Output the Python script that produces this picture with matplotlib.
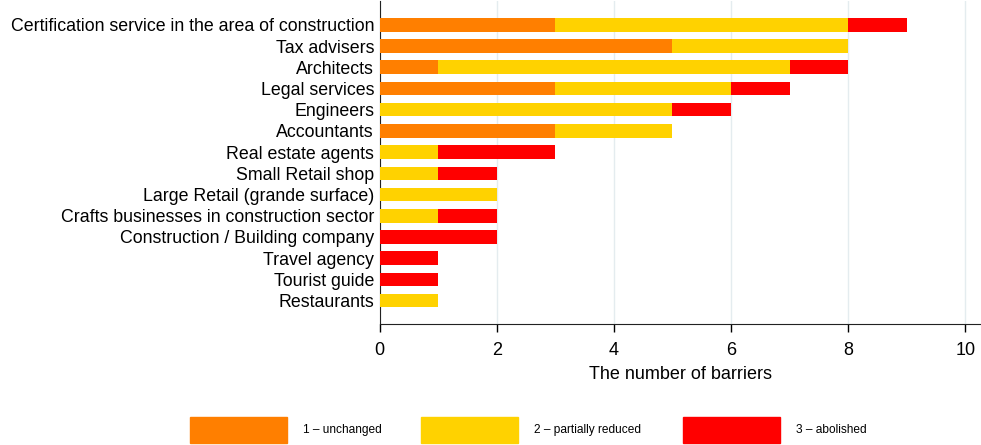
import numpy as np
import matplotlib
matplotlib.use("Agg")
import matplotlib.pyplot as plt
from matplotlib.patches import Rectangle

# sectors, top to bottom
SECTORS = [
    "Certification service in the area of construction",
    "Tax advisers",
    "Architects",
    "Legal services",
    "Engineers",
    "Accountants",
    "Real estate agents",
    "Small Retail shop",
    "Large Retail (grande surface)",
    "Crafts businesses in construction sector",
    "Construction / Building company",
    "Travel agency",
    "Tourist guide",
    "Restaurants",
]
UNCHANGED = [3, 5, 1, 3, 0, 3, 0, 0, 0, 0, 0, 0, 0, 0]
PARTIAL = [5, 3, 6, 3, 5, 2, 1, 1, 2, 1, 0, 0, 0, 1]
ABOLISHED = [1, 0, 1, 1, 1, 0, 2, 1, 0, 1, 2, 1, 1, 0]

LABELS = ["1 \u2013 unchanged", "2 \u2013 partially reduced", "3 \u2013 abolished"]
COLORS = ["#FF7F00", "#FFD200", "#FF0000"]

plt.rcParams["font.family"] = ["Liberation Sans", "DejaVu Sans"]

fig = plt.figure(figsize=(9.81, 4.45), dpi=100)
ax = fig.add_axes([0.387, 0.272, 0.613, 0.726])

y = np.arange(len(SECTORS))
left = np.zeros(len(SECTORS))
for vals, col in zip([UNCHANGED, PARTIAL, ABOLISHED], COLORS):
    vals = np.array(vals, dtype=float)
    m = vals > 0
    ax.barh(y[m], vals[m], left=left[m], height=0.64, color=col, lw=0, zorder=3)
    left += vals

ax.set_yticks(y)
ax.set_yticklabels(SECTORS, fontsize=12.8)
ax.set_ylim(14.1, -1.13)
ax.set_xlim(0, 10.27)
ax.set_xticks(range(0, 11, 2))
ax.tick_params(axis="x", labelsize=13, length=6, width=1, direction="out", pad=7)
ax.tick_params(axis="y", length=0, pad=4)
ax.set_xlabel("The number of barriers", fontsize=13, labelpad=5)
ax.xaxis.grid(True, color="#E4ECEF", lw=1, zorder=0)
ax.set_axisbelow(True)
for s in ["top", "right"]:
    ax.spines[s].set_visible(False)
ax.spines["left"].set_color("#222222")
ax.spines["bottom"].set_color("#222222")

# legend along the bottom
W, H = 981.0, 445.0
patch_x = [190, 421, 683]
for px, lab, col in zip(patch_x, LABELS, COLORS):
    fig.patches.append(Rectangle((px / W, 1 - 443 / H), 97 / W, 26 / H,
                                 transform=fig.transFigure, color=col))
    fig.text((px + 113) / W, 1 - 430 / H, lab, fontsize=8.6, va="center", ha="left")

fig.savefig("out.png", dpi=100)
